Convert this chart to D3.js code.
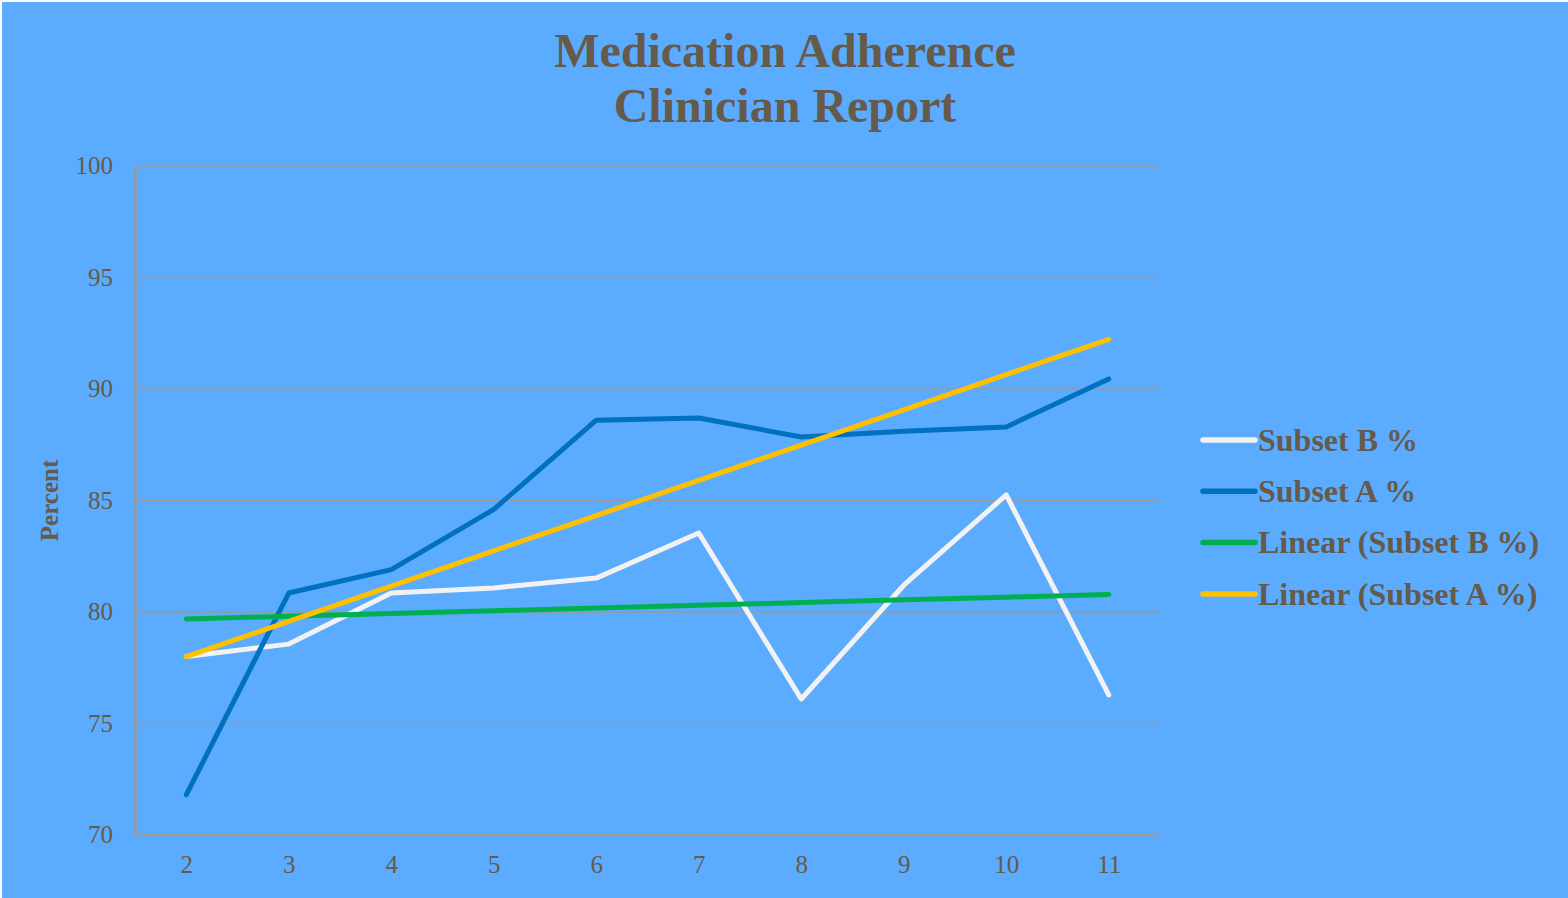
<!DOCTYPE html>
<html>
<head>
<meta charset="utf-8">
<script src="https://cdn.jsdelivr.net/npm/d3@7"></script>
<style>
  html, body { margin: 0; padding: 0; background: #ffffff; }
  svg { display: block; }
</style>
</head>
<body>
<svg id="chart" width="1568" height="898"></svg>
<script>
// Months along the x axis
const categories = [2, 3, 4, 5, 6, 7, 8, 9, 10, 11];
// Adherence percentages per subset
const subsetB = [78.0, 78.56, 80.85, 81.08, 81.52, 83.54, 76.1, 81.2, 85.25, 76.28];
const subsetA = [71.8, 80.85, 81.9, 84.6, 88.6, 88.7, 87.85, 88.1, 88.3, 90.45];
const yTicks = [70, 75, 80, 85, 90, 95, 100];
const titleLines = ["Medication Adherence", "Clinician Report"];

const W = 1568, H = 898;
const plot = { left: 135, right: 1160, top: 166, bottom: 835 };
const textColor = "#665a4a";
const gridColor = "#9a9a9a";
const font = "'Liberation Serif', 'Times New Roman', serif";

const svg = d3.select("#chart");

svg.append("rect").attr("x", 2).attr("y", 2).attr("width", W - 2).attr("height", H - 2)
  .attr("fill", "#5babff");

const x = d3.scalePoint().domain(categories).range([plot.left, plot.right]).padding(0.5);
const y = d3.scaleLinear().domain([70, 100]).range([plot.bottom, plot.top]);

// Least-squares trend line over category index
function linearFit(values) {
  const xs = values.map((_, i) => i + 1);
  const mx = d3.mean(xs), my = d3.mean(values);
  let num = 0, den = 0;
  xs.forEach((xi, i) => { num += (xi - mx) * (values[i] - my); den += (xi - mx) ** 2; });
  const slope = num / den, icpt = my - slope * mx;
  return xs.map(xi => icpt + slope * xi);
}

// Gridlines
svg.append("g").selectAll("line").data(yTicks.filter(t => t !== 70)).join("line")
  .attr("x1", plot.left).attr("x2", plot.right)
  .attr("y1", d => y(d)).attr("y2", d => y(d))
  .attr("stroke", gridColor).attr("stroke-width", 1.5);

// Y axis
const yAxis = svg.append("g").attr("transform", `translate(${plot.left},0)`)
  .call(d3.axisLeft(y).tickValues(yTicks).tickSize(0).tickPadding(22));
yAxis.select(".domain").attr("stroke", gridColor).attr("stroke-width", 2.5);
yAxis.selectAll("text").attr("font-family", font).attr("font-size", 25).attr("fill", textColor)
  .attr("dy", "0.3em");

// X axis
const xAxis = svg.append("g").attr("transform", `translate(0,${plot.bottom})`)
  .call(d3.axisBottom(x).tickSize(0).tickPadding(20));
xAxis.select(".domain").attr("stroke", gridColor).attr("stroke-width", 2.5)
  .attr("d", `M${plot.left},0H${plot.right}`);
xAxis.selectAll("text").attr("font-family", font).attr("font-size", 25).attr("fill", textColor);

// Axis title
svg.append("text")
  .attr("transform", `translate(58,${(plot.top + plot.bottom) / 2}) rotate(-90)`)
  .attr("text-anchor", "middle")
  .attr("font-family", font).attr("font-weight", "bold").attr("font-size", 25)
  .attr("fill", textColor).text("Percent");

// Title
svg.append("text").attr("x", 785).attr("y", 67).attr("text-anchor", "middle")
  .attr("font-family", font).attr("font-weight", "bold").attr("font-size", 48)
  .attr("fill", textColor)
  .selectAll("tspan").data(titleLines).join("tspan")
  .attr("x", 785).attr("dy", (d, i) => i === 0 ? 0 : 55).text(d => d);

const series = [
  { name: "Subset B %", values: subsetB, color: "#f2f2f2" },
  { name: "Subset A %", values: subsetA, color: "#0070c0" },
  { name: "Linear (Subset B %)", values: linearFit(subsetB), color: "#00b050" },
  { name: "Linear (Subset A %)", values: linearFit(subsetA), color: "#ffc000" }
];

const line = d3.line().x((d, i) => x(categories[i])).y(d => y(d));

svg.append("g").selectAll("path").data(series).join("path")
  .attr("d", d => line(d.values))
  .attr("fill", "none").attr("stroke", d => d.color)
  .attr("stroke-width", 5).attr("stroke-linecap", "round").attr("stroke-linejoin", "round");

// Legend
const legend = svg.append("g").attr("transform", "translate(1200,440)");
const items = legend.selectAll("g").data(series).join("g")
  .attr("transform", (d, i) => `translate(0,${i * 51.3})`);
items.append("line").attr("x1", 3).attr("x2", 55).attr("y1", 0).attr("y2", 0)
  .attr("stroke", d => d.color).attr("stroke-width", 5.5).attr("stroke-linecap", "round");
items.append("text").attr("x", 58).attr("y", 0).attr("dy", "0.34em")
  .attr("font-family", font).attr("font-weight", "bold").attr("font-size", 32)
  .attr("fill", textColor).text(d => d.name);
</script>
</body>
</html>
